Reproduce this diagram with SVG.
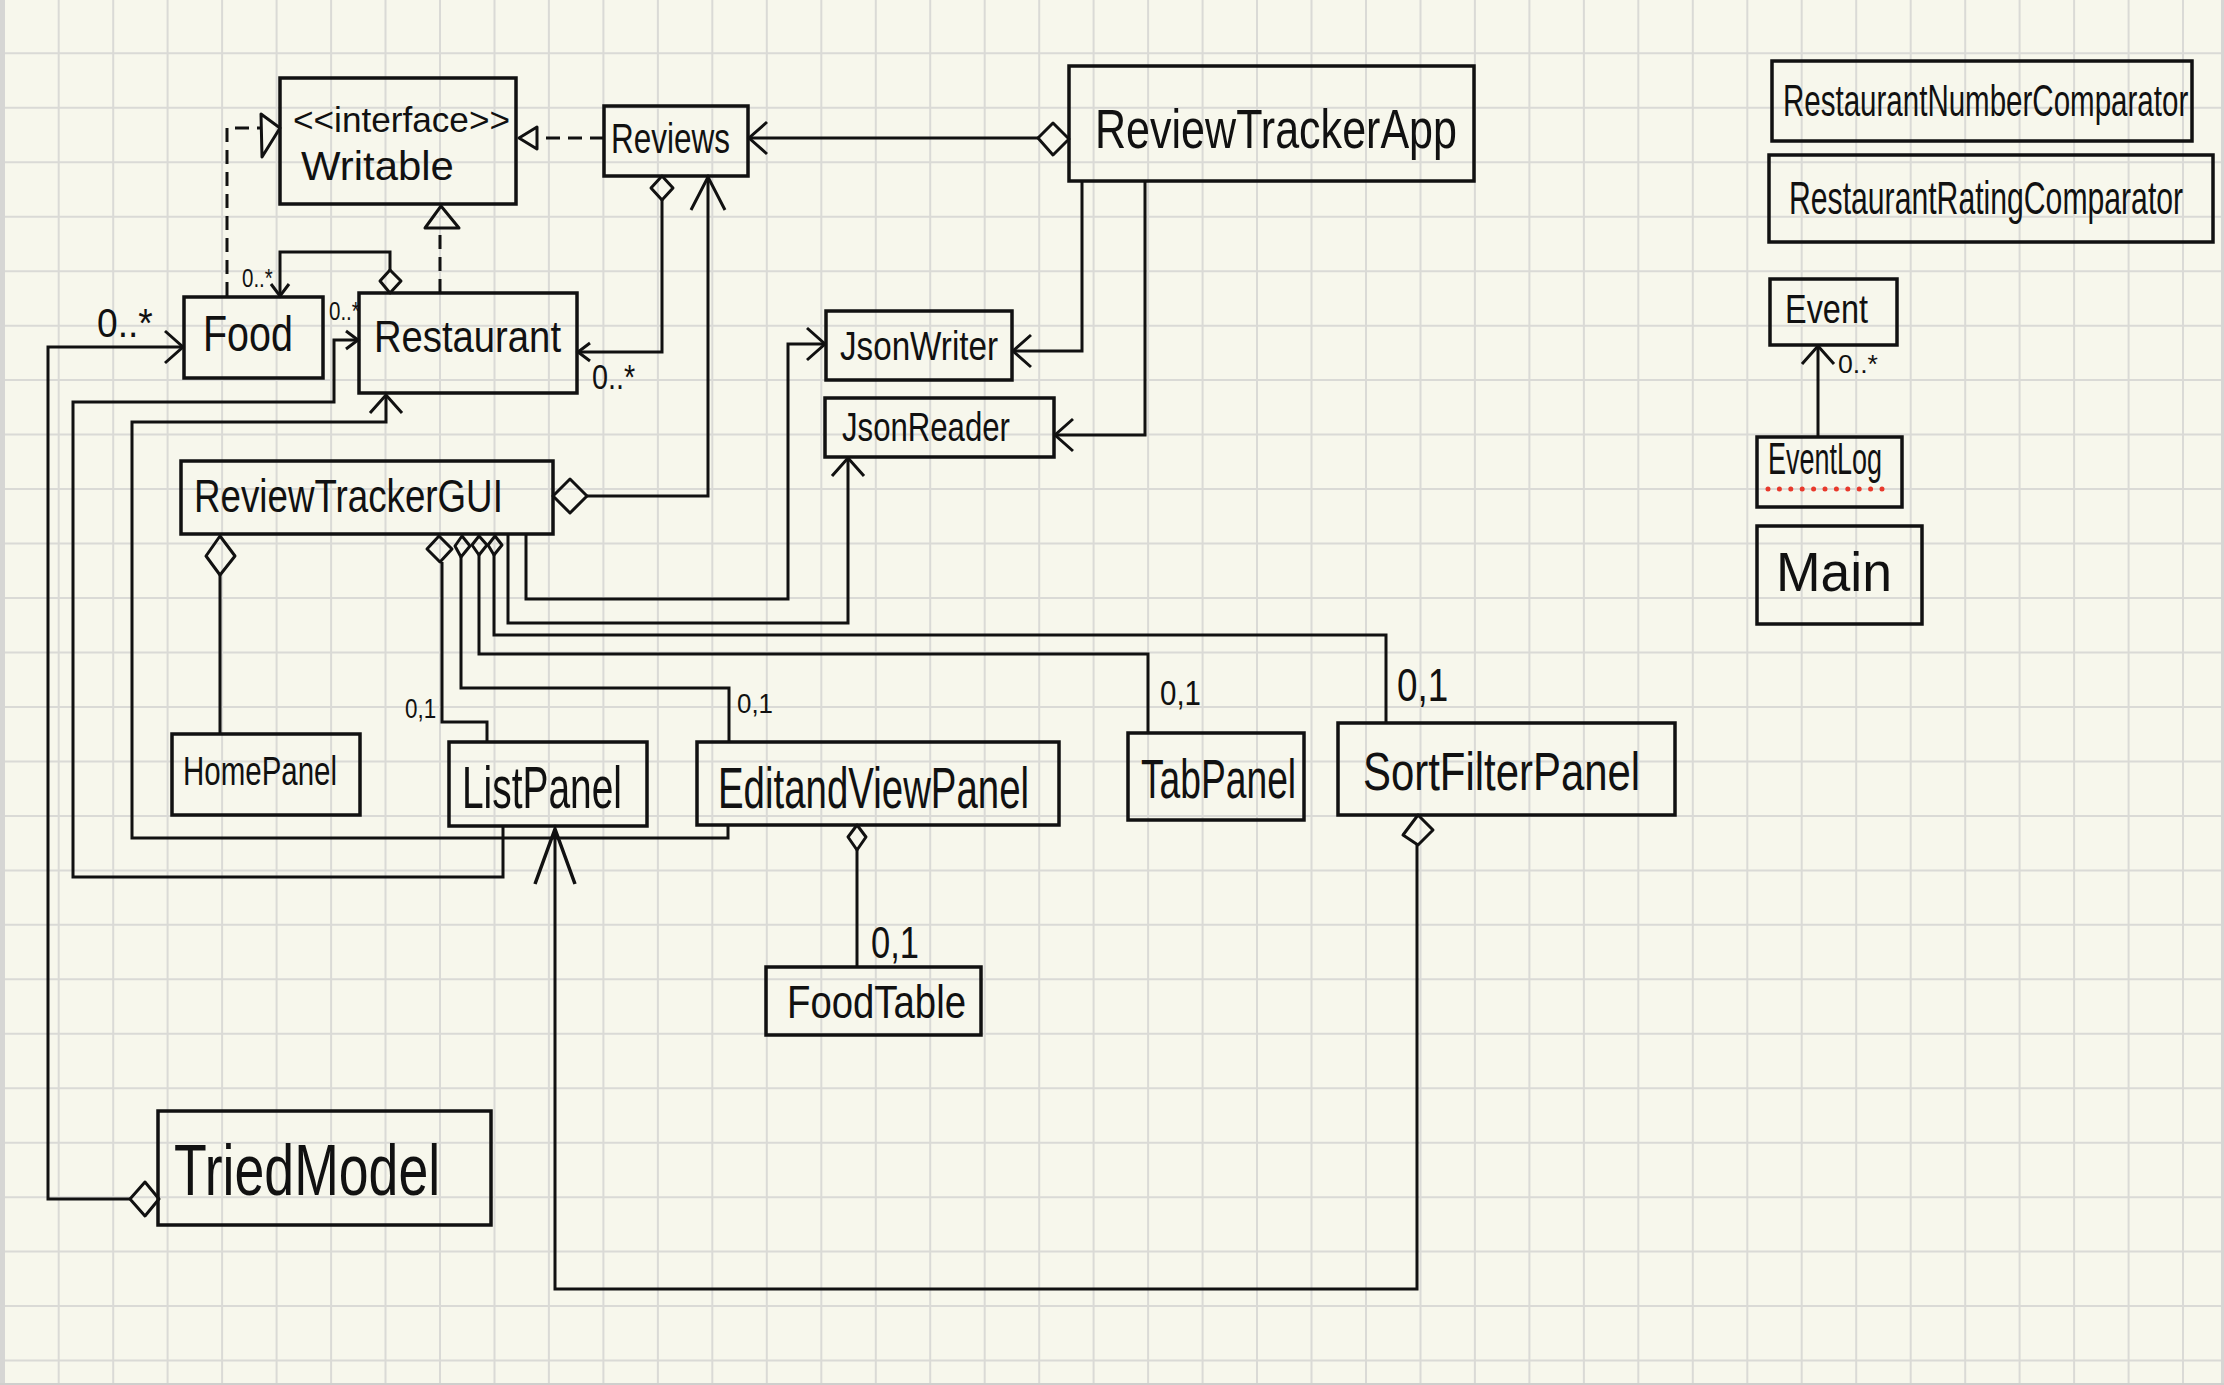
<svg xmlns="http://www.w3.org/2000/svg" width="2224" height="1385" viewBox="0 0 2224 1385">
  <style>
    .box { fill: none; stroke: #111; stroke-width: 3.5; }
    .ln { fill: none; stroke: #111; stroke-width: 3; stroke-linejoin: miter; }
    .dash { stroke-dasharray: 14 8; }
    .head { fill: none; stroke: #111; stroke-width: 3; stroke-linejoin: round; }
    .name { font-family: "Liberation Sans", Arial, sans-serif; fill: #111; }
    .mult { font-family: "Liberation Sans", Arial, sans-serif; fill: #111; }
    .grid { fill: none; stroke: #dadad6; stroke-width: 2; }
  </style>
  <defs>
    <marker id="arrow" markerUnits="userSpaceOnUse" orient="auto" overflow="visible" refX="0" refY="0">
      <path d="M-18,-16 L0,0 L-18,16" fill="none" stroke="#111" stroke-width="3"/>
    </marker>
    <marker id="arrowSm" markerUnits="userSpaceOnUse" orient="auto" overflow="visible" refX="0" refY="0">
      <path d="M-12,-9 L0,0 L-12,9" fill="none" stroke="#111" stroke-width="3"/>
    </marker>
    <marker id="arrowTall" markerUnits="userSpaceOnUse" orient="auto" overflow="visible" refX="0" refY="0">
      <path d="M-33,-17 L0,0 L-33,17" fill="none" stroke="#111" stroke-width="3"/>
    </marker>
    <marker id="arrowXL" markerUnits="userSpaceOnUse" orient="auto" overflow="visible" refX="0" refY="0">
      <path d="M-55,-20 L0,0 L-55,20" fill="none" stroke="#111" stroke-width="3.5"/>
    </marker>
  </defs>

  <!-- paper -->
  <rect x="0" y="0" width="2224" height="1385" fill="#f7f7ec"/>
  <path class="grid" d="M58.7,0V1385 M113.2,0V1385 M167.6,0V1385 M222.1,0V1385 M276.6,0V1385 M331.1,0V1385 M385.5,0V1385 M440,0V1385 M494.5,0V1385 M548.9,0V1385 M603.4,0V1385 M657.9,0V1385 M712.3,0V1385 M766.8,0V1385 M821.3,0V1385 M875.8,0V1385 M930.2,0V1385 M984.7,0V1385 M1039.2,0V1385 M1093.6,0V1385 M1148.1,0V1385 M1202.6,0V1385 M1257,0V1385 M1311.5,0V1385 M1366,0V1385 M1420.5,0V1385 M1474.9,0V1385 M1529.4,0V1385 M1583.9,0V1385 M1638.3,0V1385 M1692.8,0V1385 M1747.3,0V1385 M1801.7,0V1385 M1856.2,0V1385 M1910.7,0V1385 M1965.2,0V1385 M2019.6,0V1385 M2074.1,0V1385 M2128.6,0V1385 M2183,0V1385
    M0,53.3H2224 M0,107.8H2224 M0,162.2H2224 M0,216.7H2224 M0,271.2H2224 M0,325.7H2224 M0,380.1H2224 M0,434.6H2224 M0,489.1H2224 M0,543.5H2224 M0,598H2224 M0,652.5H2224 M0,706.9H2224 M0,761.4H2224 M0,815.9H2224 M0,870.4H2224 M0,924.8H2224 M0,979.3H2224 M0,1033.8H2224 M0,1088.2H2224 M0,1142.7H2224 M0,1197.2H2224 M0,1251.6H2224 M0,1306.1H2224 M0,1360.6H2224"/>
  <rect x="0" y="0" width="5" height="1385" fill="#d6d6d4"/>
  <rect x="2221" y="0" width="3" height="1385" fill="#d6d6d4"/>
  <rect x="0" y="1383" width="2224" height="2" fill="#cfcfcd"/>

  <!-- relationships -->
  <g id="connectors">
    <!-- realizations of Writable -->
    <path class="ln dash" d="M227,296 V128 H261"/>
    <polygon class="head" points="261,114 280,128 262,157"/>
    <path class="ln dash" d="M440,293 V228"/>
    <polygon class="head" points="425,228 459,228 441,206"/>
    <path class="ln dash" d="M604,138 H537"/>
    <polygon class="head" points="537,127 519,138 537,149"/>

    <!-- ReviewTrackerApp aggregates Reviews -->
    <polygon class="head" points="1069,139 1053,123 1038,138 1053,155"/>
    <path class="ln" d="M1038,138 H749" marker-end="url(#arrow)"/>

    <!-- Reviews aggregates Restaurant -->
    <polygon class="head" points="662,176 673,188 662,200 651,188"/>
    <path class="ln" d="M662,200 V352 H578" marker-end="url(#arrowSm)"/>

    <!-- Restaurant aggregates Food -->
    <polygon class="head" points="390,270 401,281 390,293 380,281"/>
    <path class="ln" d="M390,270 V252 H280 V296" marker-end="url(#arrowSm)"/>

    <!-- ReviewTrackerGUI aggregates Reviews -->
    <polygon class="head" points="553,496 570,479 587,496 570,513"/>
    <path class="ln" d="M587,496 H708 V177" marker-end="url(#arrowTall)"/>

    <!-- ReviewTrackerApp uses JsonWriter / JsonReader -->
    <path class="ln" d="M1082,181 V351 H1013" marker-end="url(#arrow)"/>
    <path class="ln" d="M1145,181 V435 H1055" marker-end="url(#arrow)"/>

    <!-- ReviewTrackerGUI uses JsonWriter / JsonReader -->
    <path class="ln" d="M526,535 V599 H788 V344 H825" marker-end="url(#arrow)"/>
    <path class="ln" d="M508,535 V623 H848 V458" marker-end="url(#arrow)"/>

    <!-- ReviewTrackerGUI aggregates its panels -->
    <polygon class="head" points="439,536 452,549 440,562 427,549"/>
    <path class="ln" d="M442,562 V722 H487 V742"/>
    <polygon class="head" points="462,536 470,546 461,557 455,546"/>
    <path class="ln" d="M461,557 V688 H729 V742"/>
    <polygon class="head" points="479,536 487,545 479,555 472,545"/>
    <path class="ln" d="M479,555 V654 H1148 V733"/>
    <polygon class="head" points="495,536 502,545 494,555 488,545"/>
    <path class="ln" d="M494,555 V635 H1386 V723"/>
    <polygon class="head" points="220,536 235,556 220,575 206,556"/>
    <path class="ln" d="M220,575 V734"/>

    <!-- EditandViewPanel aggregates FoodTable -->
    <polygon class="head" points="857,825 866,837 857,850 848,837"/>
    <path class="ln" d="M857,850 V967"/>

    <!-- SortFilterPanel aggregates ListPanel -->
    <polygon class="head" points="1418,815 1433,830 1418,845 1403,835"/>
    <path class="ln" d="M1417,845 V1289 H555 V829" marker-end="url(#arrowXL)"/>

    <!-- panels use Restaurant -->
    <path class="ln" d="M503,826 V877 H73 V402 H334 V340 H358" marker-end="url(#arrowSm)"/>
    <path class="ln" d="M728,825 V838 H132 V422 H386 V395" marker-end="url(#arrow)"/>

    <!-- TriedModel aggregates Food -->
    <polygon class="head" points="159,1199 145,1182 130,1199 145,1216"/>
    <path class="ln" d="M130,1199 H48 V347 H183" marker-end="url(#arrow)"/>

    <!-- EventLog holds Events -->
    <path class="ln" d="M1818,437 V346" marker-end="url(#arrow)"/>

    <!-- multiplicities (condensed with a horizontal scale) -->
    <text class="mult" transform="translate(97,337) scale(0.93,1)" font-size="40" textLength="60" lengthAdjust="spacingAndGlyphs">0..*</text>
    <text class="mult" transform="translate(242,287) scale(0.79,1)" font-size="26" textLength="39" lengthAdjust="spacingAndGlyphs">0..*</text>
    <text class="mult" transform="translate(329,320) scale(0.79,1)" font-size="26" textLength="39" lengthAdjust="spacingAndGlyphs">0..*</text>
    <text class="mult" transform="translate(592,389) scale(0.8,1)" font-size="36" textLength="54" lengthAdjust="spacingAndGlyphs">0..*</text>
    <text class="mult" transform="translate(405,718) scale(0.83,1)" font-size="27" textLength="37.5" lengthAdjust="spacingAndGlyphs">0,1</text>
    <text class="mult" transform="translate(737,713) scale(0.96,1)" font-size="27" textLength="37.5" lengthAdjust="spacingAndGlyphs">0,1</text>
    <text class="mult" transform="translate(1160,705) scale(0.82,1)" font-size="36" textLength="50" lengthAdjust="spacingAndGlyphs">0,1</text>
    <text class="mult" transform="translate(1397,701) scale(0.8,1)" font-size="46" textLength="64" lengthAdjust="spacingAndGlyphs">0,1</text>
    <text class="mult" transform="translate(871,958) scale(0.78,1)" font-size="44" textLength="61.5" lengthAdjust="spacingAndGlyphs">0,1</text>
    <text class="mult" x="1838" y="373" font-size="26" textLength="40" lengthAdjust="spacingAndGlyphs">0..*</text>
  </g>

  <!-- classes (handwritten-looking names are condensed with a horizontal scale) -->
  <g id="Writable">
    <rect class="box" x="280" y="78" width="236" height="126"/>
    <text class="name" x="293" y="132" font-size="35" textLength="217" lengthAdjust="spacingAndGlyphs">&lt;&lt;interface&gt;&gt;</text>
    <text class="name" transform="translate(301,180) scale(1.04,1)" font-size="40" textLength="147" lengthAdjust="spacingAndGlyphs">Writable</text>
  </g>
  <g id="Reviews">
    <rect class="box" x="604" y="106" width="144" height="70"/>
    <text class="name" transform="translate(611,153) scale(0.75,1)" font-size="42" textLength="158.7" lengthAdjust="spacingAndGlyphs">Reviews</text>
  </g>
  <g id="ReviewTrackerApp">
    <rect class="box" x="1069" y="66" width="405" height="115"/>
    <text class="name" transform="translate(1095,148) scale(0.765,1)" font-size="56" textLength="473.2" lengthAdjust="spacingAndGlyphs">ReviewTrackerApp</text>
  </g>
  <g id="Food">
    <rect class="box" x="184" y="297" width="139" height="81"/>
    <text class="name" transform="translate(203,351) scale(0.79,1)" font-size="50" textLength="113.9" lengthAdjust="spacingAndGlyphs">Food</text>
  </g>
  <g id="Restaurant">
    <rect class="box" x="359" y="293" width="218" height="100"/>
    <text class="name" transform="translate(374,352) scale(0.869,1)" font-size="44" textLength="215.2" lengthAdjust="spacingAndGlyphs">Restaurant</text>
  </g>
  <g id="JsonWriter">
    <rect class="box" x="826" y="311" width="186" height="69"/>
    <text class="name" transform="translate(840,360) scale(0.827,1)" font-size="40" textLength="191.1" lengthAdjust="spacingAndGlyphs">JsonWriter</text>
  </g>
  <g id="JsonReader">
    <rect class="box" x="825" y="398" width="229" height="59"/>
    <text class="name" transform="translate(842,441) scale(0.779,1)" font-size="40" textLength="215.6" lengthAdjust="spacingAndGlyphs">JsonReader</text>
  </g>
  <g id="ReviewTrackerGUI">
    <rect class="box" x="181" y="461" width="372" height="73"/>
    <text class="name" transform="translate(194,512) scale(0.795,1)" font-size="46" textLength="388.5" lengthAdjust="spacingAndGlyphs">ReviewTrackerGUI</text>
  </g>
  <g id="HomePanel">
    <rect class="box" x="172" y="734" width="188" height="81"/>
    <text class="name" transform="translate(183,785) scale(0.737,1)" font-size="40" textLength="209" lengthAdjust="spacingAndGlyphs">HomePanel</text>
  </g>
  <g id="ListPanel">
    <rect class="box" x="449" y="742" width="198" height="84"/>
    <text class="name" transform="translate(462,808) scale(0.648,1)" font-size="60" textLength="246.8" lengthAdjust="spacingAndGlyphs">ListPanel</text>
  </g>
  <g id="EditandViewPanel">
    <rect class="box" x="697" y="742" width="362" height="83"/>
    <text class="name" transform="translate(718,808) scale(0.661,1)" font-size="58" textLength="470.7" lengthAdjust="spacingAndGlyphs">EditandViewPanel</text>
  </g>
  <g id="TabPanel">
    <rect class="box" x="1128" y="733" width="176" height="87"/>
    <text class="name" transform="translate(1141,798) scale(0.647,1)" font-size="56" textLength="239.7" lengthAdjust="spacingAndGlyphs">TabPanel</text>
  </g>
  <g id="SortFilterPanel">
    <rect class="box" x="1338" y="723" width="337" height="92"/>
    <text class="name" transform="translate(1363,790) scale(0.776,1)" font-size="54" textLength="357.1" lengthAdjust="spacingAndGlyphs">SortFilterPanel</text>
  </g>
  <g id="FoodTable">
    <rect class="box" x="766" y="967" width="215" height="68"/>
    <text class="name" transform="translate(787,1018) scale(0.814,1)" font-size="46" textLength="219.9" lengthAdjust="spacingAndGlyphs">FoodTable</text>
  </g>
  <g id="TriedModel">
    <rect class="box" x="158" y="1111" width="333" height="114"/>
    <text class="name" transform="translate(174,1195) scale(0.739,1)" font-size="72" textLength="360.1" lengthAdjust="spacingAndGlyphs">TriedModel</text>
  </g>
  <g id="RestaurantNumberComparator">
    <rect class="box" x="1772" y="61" width="420" height="80"/>
    <text class="name" transform="translate(1783,116) scale(0.671,1)" font-size="44" textLength="603.9" lengthAdjust="spacingAndGlyphs">RestaurantNumberComparator</text>
  </g>
  <g id="RestaurantRatingComparator">
    <rect class="box" x="1769" y="155" width="444" height="87"/>
    <text class="name" transform="translate(1789,214) scale(0.656,1)" font-size="46" textLength="600.8" lengthAdjust="spacingAndGlyphs">RestaurantRatingComparator</text>
  </g>
  <g id="Event">
    <rect class="box" x="1770" y="279" width="127" height="66"/>
    <text class="name" transform="translate(1785,323) scale(0.811,1)" font-size="40" textLength="102.3" lengthAdjust="spacingAndGlyphs">Event</text>
  </g>
  <g id="EventLog">
    <rect class="box" x="1757" y="437" width="145" height="70"/>
    <text class="name" transform="translate(1768,474) scale(0.613,1)" font-size="44" textLength="185.9" lengthAdjust="spacingAndGlyphs">EventLog</text>
    <line x1="1768" y1="489" x2="1882" y2="489" stroke="#e8392c" stroke-width="5" stroke-linecap="round" stroke-dasharray="0 11.4"/>
  </g>
  <g id="Main">
    <rect class="box" x="1757" y="526" width="165" height="98"/>
    <text class="name" transform="translate(1776,591) scale(0.956,1)" font-size="56" textLength="121.4" lengthAdjust="spacingAndGlyphs">Main</text>
  </g>
</svg>
